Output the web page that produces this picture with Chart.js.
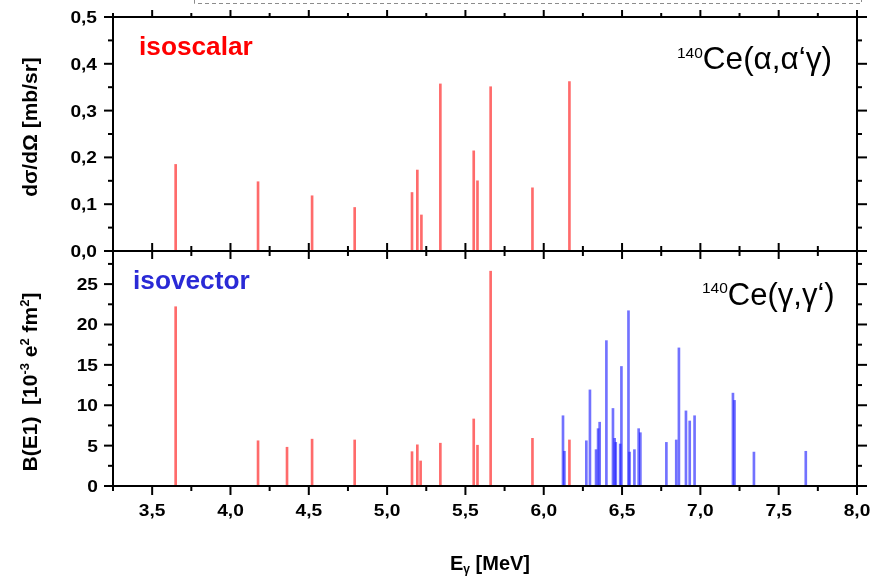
<!DOCTYPE html>
<html>
<head>
<meta charset="utf-8">
<script src="https://cdn.jsdelivr.net/npm/chart.js@4.4.1/dist/chart.umd.min.js"></script>
<style>
  html, body { margin: 0; padding: 0; background: #fff; }
  #wrap { width: 889px; height: 576px; position: relative; }
</style>
</head>
<body>
<div id="wrap"><canvas id="c" width="889" height="576"></canvas></div>
<script>
// 140Ce(α,α'γ): excitation energies (MeV) and cross sections (mb/sr)
const alphaEnergies = [3.650, 4.176, 4.521, 4.793, 5.159, 5.193, 5.219, 5.340, 5.553, 5.577, 5.661, 5.928, 6.164];
const alphaCross    = [0.185, 0.148, 0.118, 0.093, 0.125, 0.173, 0.077, 0.357, 0.214, 0.150, 0.351, 0.135, 0.362];

// 140Ce(γ,γ'): B(E1) of the states also excited by α scattering (10^-3 e^2 fm^2)
const sharedEnergies  = [3.650, 4.176, 4.361, 4.521, 4.793, 5.159, 5.193, 5.214, 5.340, 5.553, 5.577, 5.661, 5.928, 6.164];
const sharedStrengths = [22.2, 5.6, 4.8, 5.8, 5.7, 4.25, 5.1, 3.1, 5.3, 8.3, 5.05, 26.6, 5.9, 5.7];

// 140Ce(γ,γ'): B(E1) of states seen only in photon scattering
const photonEnergies  = [6.123, 6.132, 6.272, 6.295, 6.334, 6.347, 6.357, 6.400, 6.442, 6.453, 6.460, 6.488, 6.496,
                         6.541, 6.548, 6.579, 6.606, 6.617, 6.783, 6.846, 6.863, 6.908, 6.932, 6.963, 7.208, 7.218,
                         7.342, 7.673];
const photonStrengths = [8.7, 4.3, 5.6, 11.9, 4.5, 7.1, 7.9, 18.0, 9.6, 5.9, 5.4, 5.2, 14.8,
                         21.7, 4.2, 4.5, 7.1, 6.6, 5.4, 5.7, 17.1, 9.3, 8.05, 8.7, 11.5, 10.6,
                         4.2, 4.3];

// Axis ticks
const xTicks = [3.5, 4.0, 4.5, 5.0, 5.5, 6.0, 6.5, 7.0, 7.5, 8.0];
const xTickLabels = ['3,5', '4,0', '4,5', '5,0', '5,5', '6,0', '6,5', '7,0', '7,5', '8,0'];
const xMinorTicks = [3.25, 3.75, 4.25, 4.75, 5.25, 5.75, 6.25, 6.75, 7.25, 7.75];
const crossTicks = [0, 0.1, 0.2, 0.3, 0.4, 0.5];
const crossTickLabels = ['0,0', '0,1', '0,2', '0,3', '0,4', '0,5'];
const crossMinorTicks = [0.05, 0.15, 0.25, 0.35, 0.45];
const e1Ticks = [0, 5, 10, 15, 20, 25];
const e1TickLabels = ['0', '5', '10', '15', '20', '25'];
const e1MinorTicks = [2.5, 7.5, 12.5, 17.5, 22.5, 27.5];

const RED = 'rgba(255, 0, 0, 0.58)';
const BLUE = 'rgba(20, 20, 255, 0.6)';
const FONT = '"Liberation Sans", Arial, Helvetica, sans-serif';

const points = (xs, ys) => xs.map((x, i) => ({ x, y: ys[i] }));

function line(ctx, x1, y1, x2, y2) {
  ctx.beginPath();
  ctx.moveTo(x1, y1);
  ctx.lineTo(x2, y2);
  ctx.stroke();
}

// text stretched horizontally around its anchor
function wideText(ctx, text, x, y, align, sx) {
  ctx.save();
  ctx.translate(x, y);
  ctx.scale(sx, 1);
  ctx.textAlign = align;
  ctx.fillText(text, 0, 0);
  ctx.restore();
}

// draws a run of [text, font, dy] pieces one after another
function runs(ctx, pieces, x, y) {
  let cx = x;
  for (const [text, font, dy] of pieces) {
    ctx.font = font;
    ctx.fillText(text, cx, y + dy);
    cx += ctx.measureText(text).width;
  }
  return cx;
}
function runsWidth(ctx, pieces) {
  let w = 0;
  for (const [text, font] of pieces) { ctx.font = font; w += ctx.measureText(text).width; }
  return w;
}

const framePlugin = {
  id: 'frame',
  afterDatasetsDraw(chart) {
    const { ctx, chartArea: a, scales } = chart;
    const x = scales.x, yT = scales.yTop, yB = scales.yBottom;
    const mid = yT.getPixelForValue(0);
    ctx.save();

    // box and panel divider
    ctx.strokeStyle = '#000';
    ctx.lineWidth = 2;
    ctx.lineCap = 'butt';
    ctx.strokeRect(a.left, a.top, a.right - a.left, a.bottom - a.top);
    line(ctx, a.left - 1, mid, a.right + 1, mid);

    // x ticks on top, middle and bottom edges
    for (const v of xTicks) {
      const p = x.getPixelForValue(v);
      line(ctx, p, a.top, p, a.top - 7);
      line(ctx, p, mid - 8, p, mid + 8);
      line(ctx, p, a.bottom, p, a.bottom + 9);
    }
    for (const v of xMinorTicks) {
      const p = x.getPixelForValue(v);
      line(ctx, p, a.top, p, a.top - 4);
      line(ctx, p, mid - 5, p, mid + 5);
      line(ctx, p, a.bottom, p, a.bottom + 5);
    }

    // y ticks, both sides
    const yTicks = (scale, majors, minors) => {
      for (const v of majors) {
        const p = scale.getPixelForValue(v);
        line(ctx, a.left - 9, p, a.left, p);
        line(ctx, a.right, p, a.right + 10, p);
      }
      for (const v of minors) {
        const p = scale.getPixelForValue(v);
        line(ctx, a.left - 5, p, a.left, p);
        line(ctx, a.right, p, a.right + 5, p);
      }
    };
    yTicks(yT, crossTicks, crossMinorTicks);
    yTicks(yB, e1Ticks, e1MinorTicks);

    // tick labels
    ctx.fillStyle = '#000';
    ctx.font = 'bold 16.5px ' + FONT;
    ctx.textBaseline = 'alphabetic';
    xTicks.forEach((v, i) => wideText(ctx, xTickLabels[i], x.getPixelForValue(v), a.bottom + 30, 'center', 1.16));
    crossTicks.forEach((v, i) => wideText(ctx, crossTickLabels[i], 97, yT.getPixelForValue(v) + 6, 'right', 1.16));
    e1Ticks.forEach((v, i) => wideText(ctx, e1TickLabels[i], 98, yB.getPixelForValue(v) + 6, 'right', 1.16));

    // axis titles
    const bold20 = 'bold 20px ' + FONT;
    const bold21 = 'bold 21px ' + FONT;
    const bold12 = 'bold 12px ' + FONT;
    const bold13 = 'bold 13px ' + FONT;
    const xTitle = [['E', bold20, 0], ['γ', bold12, 3], [' [MeV]', bold20, 0]];
    runs(ctx, xTitle, (a.left + a.right) / 2 - runsWidth(ctx, xTitle) / 2 + 5, 570);

    ctx.save();
    ctx.translate(37, 127);
    ctx.rotate(-Math.PI / 2);
    ctx.font = bold21;
    ctx.textAlign = 'center';
    ctx.fillText('dσ/dΩ [mb/sr]', 0, 0);
    ctx.restore();

    const e1Title = [
      ['B(E1)  [10', bold21, 0], ['-3', bold13, -8], [' e', bold21, 0], ['2', bold13, -8],
      [' fm', bold21, 0], ['2', bold13, -8], [']', bold21, 0]
    ];
    ctx.save();
    ctx.translate(37, 382);
    ctx.rotate(-Math.PI / 2);
    ctx.textAlign = 'left';
    const tw = runsWidth(ctx, e1Title);
    runs(ctx, e1Title, -tw / 2, 0);
    ctx.restore();

    // panel annotations
    ctx.textAlign = 'left';
    ctx.font = 'bold 25px ' + FONT;
    ctx.fillStyle = '#ff0000';
    wideText(ctx, 'isoscalar', 139, 55, 'left', 1.05);
    ctx.fillStyle = '#2a2ad6';
    wideText(ctx, 'isovector', 133, 289, 'left', 1.05);

    ctx.fillStyle = '#000';
    ctx.textAlign = 'left';
    runs(ctx, [['140', '15.5px ' + FONT, -11], ['Ce(α,α‘γ)', '31.5px ' + FONT, 0]], 677, 69);
    runs(ctx, [['140', '15.5px ' + FONT, -12], ['Ce(γ,γ‘)', '31px ' + FONT, 0]], 702, 305);

    // dashed edge of a box just above the plot
    ctx.strokeStyle = '#8c8c8c';
    ctx.lineWidth = 1;
    ctx.setLineDash([4, 3]);
    ctx.beginPath();
    ctx.moveTo(194.5, 0);
    ctx.lineTo(194.5, 3.5);
    ctx.lineTo(861.5, 3.5);
    ctx.lineTo(861.5, 0);
    ctx.stroke();

    ctx.restore();
  }
};

new Chart(document.getElementById('c'), {
  type: 'bar',
  data: {
    datasets: [
      { label: 'isoscalar', data: points(alphaEnergies, alphaCross), yAxisID: 'yTop', backgroundColor: RED },
      { label: 'E1 (α-excited)', data: points(sharedEnergies, sharedStrengths), yAxisID: 'yBottom', backgroundColor: RED },
      { label: 'E1 (γ only)', data: points(photonEnergies, photonStrengths), yAxisID: 'yBottom', backgroundColor: BLUE }
    ]
  },
  options: {
    responsive: false,
    animation: false,
    devicePixelRatio: 1,
    layout: { padding: { left: 113, right: 32, top: 17, bottom: 90 } },
    datasets: { bar: { grouped: false, barThickness: 2, borderWidth: 0 } },
    plugins: { legend: { display: false }, tooltip: { enabled: false }, title: { display: false } },
    scales: {
      x: { type: 'linear', min: 3.25, max: 8.0, offset: false, display: false },
      yBottom: { type: 'linear', position: 'left', stack: 'panels', stackWeight: 235, min: 0, max: 29.1, display: false },
      yTop: { type: 'linear', position: 'left', stack: 'panels', stackWeight: 234, min: 0, max: 0.5, display: false }
    }
  },
  plugins: [framePlugin]
});
</script>
</body>
</html>
